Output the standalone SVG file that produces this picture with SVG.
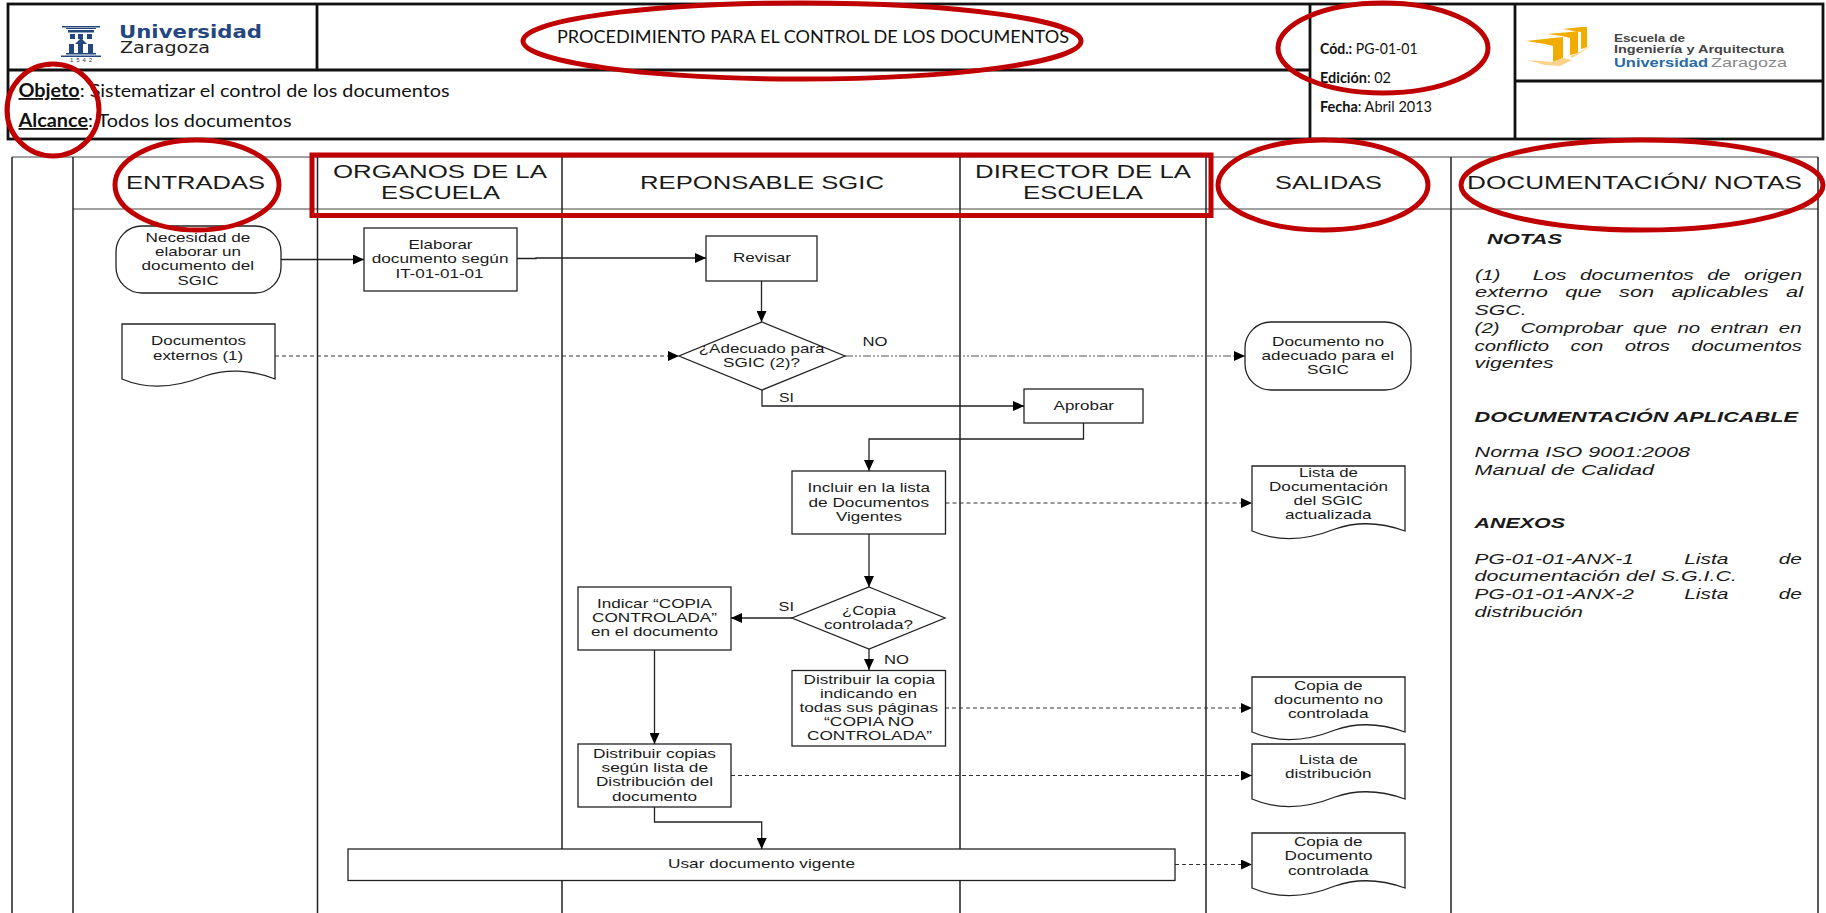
<svg xmlns="http://www.w3.org/2000/svg" width="1826" height="913" viewBox="0 0 1826 913">
<style>
text{font-family:"Liberation Sans",Arial,sans-serif;fill:#1a1a1a;white-space:pre}
.n text,text.n{font-size:13.5px}
.h{font-size:19px}
.c{font-family:Lato,"Liberation Sans",sans-serif;font-size:18px;fill:#111}
.c2{font-family:Lato,"Liberation Sans",sans-serif;font-size:15px;fill:#111}
.i{font-size:15.5px;font-style:italic}
.ib{font-size:15.5px;font-style:italic;font-weight:bold}
.b{fill:#fff;stroke:#222;stroke-width:1.3}
.tb{fill:none;stroke:#111;stroke-width:2.8}
.lane{fill:none;stroke:#222;stroke-width:1.5}
.hl{fill:none;stroke:#444;stroke-width:1.2}
.k{fill:none;stroke:#222;stroke-width:1.3}
.d{fill:none;stroke:#333;stroke-width:1.2;stroke-dasharray:4 3}
.dd{fill:none;stroke:#555;stroke-width:1.2;stroke-dasharray:8 2 2 2 2 2}
.r{fill:none;stroke:#c00000;stroke-width:5}
</style>
<defs>
<marker id="a" markerUnits="userSpaceOnUse" markerWidth="11" markerHeight="10" refX="11" refY="5" orient="auto"><path d="M0,0L11,5L0,10z" fill="#000"/></marker>
</defs>
<rect width="1826" height="913" fill="#fff"/>

<g id="cabecera">
<rect class="tb" x="8" y="4" width="1815" height="135"/>
<path class="tb" d="M8,70H1310M317,4V70M1310,4V139M1515,4V139M1515,81H1823"/>
<text class="c" x="557" y="43" textLength="512" lengthAdjust="spacingAndGlyphs">PROCEDIMIENTO PARA EL CONTROL DE LOS DOCUMENTOS</text>
<text class="c" x="18.500" y="97" textLength="431" lengthAdjust="spacingAndGlyphs"><tspan font-weight="bold" text-decoration="underline">Objeto</tspan>: Sistematizar el control de los documentos</text>
<text class="c" x="18.500" y="127" textLength="273" lengthAdjust="spacingAndGlyphs"><tspan font-weight="bold" text-decoration="underline">Alcance</tspan>: Todos los documentos</text>
<text class="c2" x="1320" y="54" textLength="97.600" lengthAdjust="spacingAndGlyphs"><tspan font-weight="bold">Cód.:</tspan> PG-01-01</text>
<text class="c2" x="1320" y="83" textLength="71" lengthAdjust="spacingAndGlyphs"><tspan font-weight="bold">Edición</tspan>: 02</text>
<text class="c2" x="1320" y="112" textLength="112" lengthAdjust="spacingAndGlyphs"><tspan font-weight="bold">Fecha</tspan>: Abril 2013</text>
</g>

<g id="logo-unizar">
<g fill="#25477f">
<path d="M62,26H100V27.500H62zM66,28H96V29H66z"/>
<rect x="68" y="30" width="26" height="2.500"/>
<rect x="70" y="34" width="5" height="5"/><rect x="78" y="34" width="5" height="5"/><rect x="87" y="34" width="5" height="5"/>
<path d="M81,38L87,44H75z"/>
<rect x="69" y="44" width="5" height="9"/><rect x="78" y="44" width="5" height="9"/><rect x="88" y="44" width="5" height="9"/>
<rect x="66" y="53" width="30" height="1.500"/><rect x="61" y="55.500" width="40" height="1.500"/>
</g>
<text x="70" y="62" font-size="6" style="fill:#333" textLength="22" lengthAdjust="spacing">1542</text>
<text x="119" y="38" font-size="17" font-weight="bold" style="font-family:'DejaVu Sans',sans-serif;fill:#25477f" textLength="143" lengthAdjust="spacingAndGlyphs">Universidad</text>
<text x="120" y="53" font-size="15" style="font-family:'DejaVu Sans',sans-serif;fill:#222" textLength="90" lengthAdjust="spacingAndGlyphs">Zaragoza</text>
</g>

<g id="logo-eina">
<path fill="#f0ad00" d="M1526,41L1553,38L1563,37L1563,58L1553,62L1553,46L1545,44zM1547,34L1570,32L1578,31L1578,53L1570,55L1570,38L1562,36zM1563,29L1581,27L1587,27L1587,47L1581,49L1581,32L1574,31z"/>
<path fill="#fbd28a" d="M1527,60L1553,62L1563,58L1572,60L1560,66L1545,65zM1570,56L1578,53L1590,46L1592,45L1582,52L1572,58zM1581,49L1587,47L1593,43L1586,48z"/>
<text x="1614" y="41.700" font-size="11" font-weight="bold" style="fill:#444" textLength="71" lengthAdjust="spacingAndGlyphs">Escuela de</text>
<text x="1614" y="52.700" font-size="11" font-weight="bold" style="fill:#444" textLength="170" lengthAdjust="spacingAndGlyphs">Ingeniería y Arquitectura</text>
<text x="1614" y="66.700" font-size="12" font-weight="bold" style="fill:#2a6aa5" textLength="94" lengthAdjust="spacingAndGlyphs">Universidad</text>
<text x="1711" y="66.700" font-size="12" style="fill:#888" textLength="76" lengthAdjust="spacingAndGlyphs">Zaragoza</text>
</g>

<g id="carriles">
<path class="hl" d="M12,157H1818M73,209H1818"/>
<path class="lane" d="M12,157V913M73,157V913M317.500,157V913M562,157V913M960,157V913M1206,157V913M1451,157V913M1818,157V913"/>
<text class="h" x="126" y="189" textLength="139" lengthAdjust="spacingAndGlyphs">ENTRADAS</text>
<text class="h" x="333" y="178" textLength="214" lengthAdjust="spacingAndGlyphs">ORGANOS DE LA</text>
<text class="h" x="381" y="199" textLength="119" lengthAdjust="spacingAndGlyphs">ESCUELA</text>
<text class="h" x="640" y="189" textLength="244" lengthAdjust="spacingAndGlyphs">REPONSABLE SGIC</text>
<text class="h" x="975" y="178" textLength="216" lengthAdjust="spacingAndGlyphs">DIRECTOR DE LA</text>
<text class="h" x="1023" y="199" textLength="120" lengthAdjust="spacingAndGlyphs">ESCUELA</text>
<text class="h" x="1275" y="189" textLength="107" lengthAdjust="spacingAndGlyphs">SALIDAS</text>
<text class="h" x="1467" y="189" textLength="335" lengthAdjust="spacingAndGlyphs">DOCUMENTACIÓN/ NOTAS</text>
</g>

<g id="conectores">
<path class="k" marker-end="url(#a)" d="M281,259.500H364"/>
<path class="k" marker-end="url(#a)" d="M517,258.500H536V258H706"/>
<path class="k" marker-end="url(#a)" d="M761.500,281V322"/>
<path class="d" marker-end="url(#a)" d="M275,356H679"/>
<path class="dd" marker-end="url(#a)" d="M845,356H1245"/>
<path class="k" marker-end="url(#a)" d="M762,390V406H1024"/>
<path class="k" marker-end="url(#a)" d="M1083.500,423V439H869V471"/>
<path class="k" marker-end="url(#a)" d="M869,534V587"/>
<path class="d" marker-end="url(#a)" d="M945.500,503H1252"/>
<path class="k" marker-end="url(#a)" d="M792,618H731"/>
<path class="k" marker-end="url(#a)" d="M869,649V670"/>
<path class="d" marker-end="url(#a)" d="M945,708H1252"/>
<path class="k" marker-end="url(#a)" d="M654.500,650V744"/>
<path class="d" marker-end="url(#a)" d="M731,775.500H1252"/>
<path class="k" marker-end="url(#a)" d="M654.500,807V822H761.700V849"/>
<path class="d" marker-end="url(#a)" d="M1175,864.500H1252"/>
<text class="n" x="862.500" y="346" textLength="25" lengthAdjust="spacingAndGlyphs">NO</text>
<text class="n" x="779" y="402" textLength="15" lengthAdjust="spacingAndGlyphs">SI</text>
<text class="n" x="778.600" y="611" textLength="15.400" lengthAdjust="spacingAndGlyphs">SI</text>
<text class="n" x="884" y="664" textLength="25" lengthAdjust="spacingAndGlyphs">NO</text>
</g>

<g id="necesidad" class="n">
<rect class="b" x="116" y="226" width="165" height="67" rx="26" ry="26"/>
<text x="145.500" y="242" textLength="104.800" lengthAdjust="spacingAndGlyphs">Necesidad de</text>
<text x="155" y="256" textLength="86" lengthAdjust="spacingAndGlyphs">elaborar un</text>
<text x="141.600" y="270" textLength="112.400" lengthAdjust="spacingAndGlyphs">documento del</text>
<text x="177.500" y="285" textLength="41.200" lengthAdjust="spacingAndGlyphs">SGIC</text>
</g>
<g id="elaborar" class="n">
<rect class="b" x="364" y="228" width="153" height="63"/>
<text x="408.500" y="249" textLength="64" lengthAdjust="spacingAndGlyphs">Elaborar</text>
<text x="371.700" y="263" textLength="136.800" lengthAdjust="spacingAndGlyphs">documento según</text>
<text x="395.400" y="278" textLength="88.200" lengthAdjust="spacingAndGlyphs">IT-01-01-01</text>
</g>
<g id="externos" class="n">
<path class="b" d="M122,324H275V379C250,369 225,369 205,376C180,386 150,391 122,379Z"/>
<text x="151" y="345" textLength="95" lengthAdjust="spacingAndGlyphs">Documentos</text>
<text x="153" y="360" textLength="90" lengthAdjust="spacingAndGlyphs">externos (1)</text>
</g>
<g id="revisar" class="n">
<rect class="b" x="706" y="236" width="111" height="45"/>
<text x="733" y="262" textLength="58" lengthAdjust="spacingAndGlyphs">Revisar</text>
</g>
<g id="adecuado" class="n">
<path class="b" d="M762,322L845,356L762,390L679,356Z"/>
<text x="698.700" y="353" textLength="125.800" lengthAdjust="spacingAndGlyphs">¿Adecuado para</text>
<text x="723" y="367" textLength="77" lengthAdjust="spacingAndGlyphs">SGIC (2)?</text>
</g>
<g id="aprobar" class="n">
<rect class="b" x="1024" y="389" width="119" height="34"/>
<text x="1053.600" y="410" textLength="60.400" lengthAdjust="spacingAndGlyphs">Aprobar</text>
</g>
<g id="incluir" class="n">
<rect class="b" x="792" y="471" width="153.500" height="63"/>
<text x="807.600" y="492" textLength="122.400" lengthAdjust="spacingAndGlyphs">Incluir en la lista</text>
<text x="808.500" y="507" textLength="120.500" lengthAdjust="spacingAndGlyphs">de Documentos</text>
<text x="836" y="521" textLength="66" lengthAdjust="spacingAndGlyphs">Vigentes</text>
</g>
<g id="indicar" class="n">
<rect class="b" x="578" y="587" width="153" height="63"/>
<text x="597" y="608" textLength="115" lengthAdjust="spacingAndGlyphs">Indicar “COPIA</text>
<text x="592" y="622" textLength="125" lengthAdjust="spacingAndGlyphs">CONTROLADA”</text>
<text x="591" y="636" textLength="127" lengthAdjust="spacingAndGlyphs">en el documento</text>
</g>
<g id="copia" class="n">
<path class="b" d="M869,587L945,618L869,649L792,618Z"/>
<text x="842" y="615" textLength="54" lengthAdjust="spacingAndGlyphs">¿Copia</text>
<text x="824" y="629" textLength="89" lengthAdjust="spacingAndGlyphs">controlada?</text>
</g>
<g id="distribuir-copia" class="n">
<rect class="b" x="792" y="670.500" width="153.500" height="75.500"/>
<text x="803.600" y="684" textLength="131.400" lengthAdjust="spacingAndGlyphs">Distribuir la copia</text>
<text x="820" y="698" textLength="97" lengthAdjust="spacingAndGlyphs">indicando en</text>
<text x="799.500" y="712" textLength="138.500" lengthAdjust="spacingAndGlyphs">todas sus páginas</text>
<text x="824" y="726" textLength="90" lengthAdjust="spacingAndGlyphs">“COPIA NO</text>
<text x="807" y="740" textLength="125" lengthAdjust="spacingAndGlyphs">CONTROLADA”</text>
</g>
<g id="distribuir-copias" class="n">
<rect class="b" x="578" y="744" width="153" height="63"/>
<text x="593" y="758" textLength="123" lengthAdjust="spacingAndGlyphs">Distribuir copias</text>
<text x="601.500" y="772" textLength="106.500" lengthAdjust="spacingAndGlyphs">según lista de</text>
<text x="596" y="786" textLength="117" lengthAdjust="spacingAndGlyphs">Distribución del</text>
<text x="612" y="801" textLength="85" lengthAdjust="spacingAndGlyphs">documento</text>
</g>
<g id="usar" class="n">
<rect class="b" x="348" y="849" width="827" height="31.500"/>
<text x="668" y="868" textLength="187" lengthAdjust="spacingAndGlyphs">Usar documento vigente</text>
</g>
<g id="no-adecuado" class="n">
<rect class="b" x="1245" y="322" width="166" height="68" rx="26" ry="26"/>
<text x="1272" y="346" textLength="112" lengthAdjust="spacingAndGlyphs">Documento no</text>
<text x="1261.600" y="360" textLength="132.400" lengthAdjust="spacingAndGlyphs">adecuado para el</text>
<text x="1307" y="374" textLength="42" lengthAdjust="spacingAndGlyphs">SGIC</text>
</g>
<g id="lista-doc" class="n">
<path class="b" d="M1252,466H1405V531C1380,522 1355,522 1335,529C1310,539 1280,543 1252,531Z"/>
<text x="1299" y="477" textLength="59" lengthAdjust="spacingAndGlyphs">Lista de</text>
<text x="1269" y="491" textLength="119" lengthAdjust="spacingAndGlyphs">Documentación</text>
<text x="1293.500" y="505" textLength="69.500" lengthAdjust="spacingAndGlyphs">del SGIC</text>
<text x="1285" y="519" textLength="86.500" lengthAdjust="spacingAndGlyphs">actualizada</text>
</g>
<g id="copia-no" class="n">
<path class="b" d="M1252,677H1405V732C1380,723 1355,723 1335,730C1310,740 1280,744 1252,732Z"/>
<text x="1294" y="690" textLength="68.500" lengthAdjust="spacingAndGlyphs">Copia de</text>
<text x="1274" y="704" textLength="109" lengthAdjust="spacingAndGlyphs">documento no</text>
<text x="1288" y="718" textLength="80.500" lengthAdjust="spacingAndGlyphs">controlada</text>
</g>
<g id="lista-dist" class="n">
<path class="b" d="M1252,744H1405V799C1380,790 1355,790 1335,797C1310,807 1280,811 1252,799Z"/>
<text x="1299" y="764" textLength="59" lengthAdjust="spacingAndGlyphs">Lista de</text>
<text x="1285" y="778" textLength="86.500" lengthAdjust="spacingAndGlyphs">distribución</text>
</g>
<g id="copia-ctrl" class="n">
<path class="b" d="M1252,833H1405V888C1380,879 1355,879 1335,886C1310,896 1280,900 1252,888Z"/>
<text x="1294" y="846" textLength="68.500" lengthAdjust="spacingAndGlyphs">Copia de</text>
<text x="1284.500" y="860" textLength="88" lengthAdjust="spacingAndGlyphs">Documento</text>
<text x="1288" y="875" textLength="80.500" lengthAdjust="spacingAndGlyphs">controlada</text>
</g>

<g id="notas">
<text class="ib" x="1487" y="244" textLength="75" lengthAdjust="spacingAndGlyphs">NOTAS</text>
<text class="i" x="1475" y="280" textLength="327" lengthAdjust="spacingAndGlyphs" word-spacing="5.700">(1) <tspan dx="14">Los documentos de origen</tspan></text>
<text class="i" x="1475" y="297" textLength="328" lengthAdjust="spacingAndGlyphs" word-spacing="8">externo que son aplicables al</text>
<text class="i" x="1474.600" y="315" textLength="52" lengthAdjust="spacingAndGlyphs">SGC.</text>
<text class="i" x="1474.600" y="333" textLength="327" lengthAdjust="spacingAndGlyphs" word-spacing="3.500">(2) <tspan dx="8">Comprobar que no entran en</tspan></text>
<text class="i" x="1474.600" y="351" textLength="327.400" lengthAdjust="spacingAndGlyphs" word-spacing="12">conflicto con otros documentos</text>
<text class="i" x="1474.600" y="368" textLength="79" lengthAdjust="spacingAndGlyphs">vigentes</text>
<text class="ib" x="1474.600" y="422" textLength="323.400" lengthAdjust="spacingAndGlyphs">DOCUMENTACIÓN APLICABLE</text>
<text class="i" x="1474.600" y="457" textLength="215.400" lengthAdjust="spacingAndGlyphs">Norma ISO 9001:2008</text>
<text class="i" x="1474.600" y="475" textLength="179.400" lengthAdjust="spacingAndGlyphs">Manual de Calidad</text>
<text class="ib" x="1474.600" y="528" textLength="90.400" lengthAdjust="spacingAndGlyphs">ANEXOS</text>
<text class="i" x="1474.600" y="564" textLength="327.400" lengthAdjust="spacingAndGlyphs" word-spacing="33">PG-01-01-ANX-1 Lista de</text>
<text class="i" x="1474.600" y="581" textLength="262.400" lengthAdjust="spacingAndGlyphs">documentación del S.G.I.C.</text>
<text class="i" x="1474.600" y="599" textLength="327.400" lengthAdjust="spacingAndGlyphs" word-spacing="33">PG-01-01-ANX-2 Lista de</text>
<text class="i" x="1474.600" y="617" textLength="108.400" lengthAdjust="spacingAndGlyphs">distribución</text>
</g>

<g id="marcas">
<ellipse class="r" cx="802" cy="41" rx="279" ry="38"/>
<ellipse class="r" cx="1383" cy="48" rx="105" ry="45"/>
<ellipse class="r" cx="53" cy="110" rx="46" ry="46"/>
<ellipse class="r" cx="197" cy="185" rx="82" ry="45"/>
<ellipse class="r" cx="1323" cy="185" rx="105" ry="45"/>
<ellipse class="r" cx="1642" cy="185" rx="181" ry="45"/>
<rect class="r" x="312" y="155" width="899" height="60.500"/>
</g>
</svg>
